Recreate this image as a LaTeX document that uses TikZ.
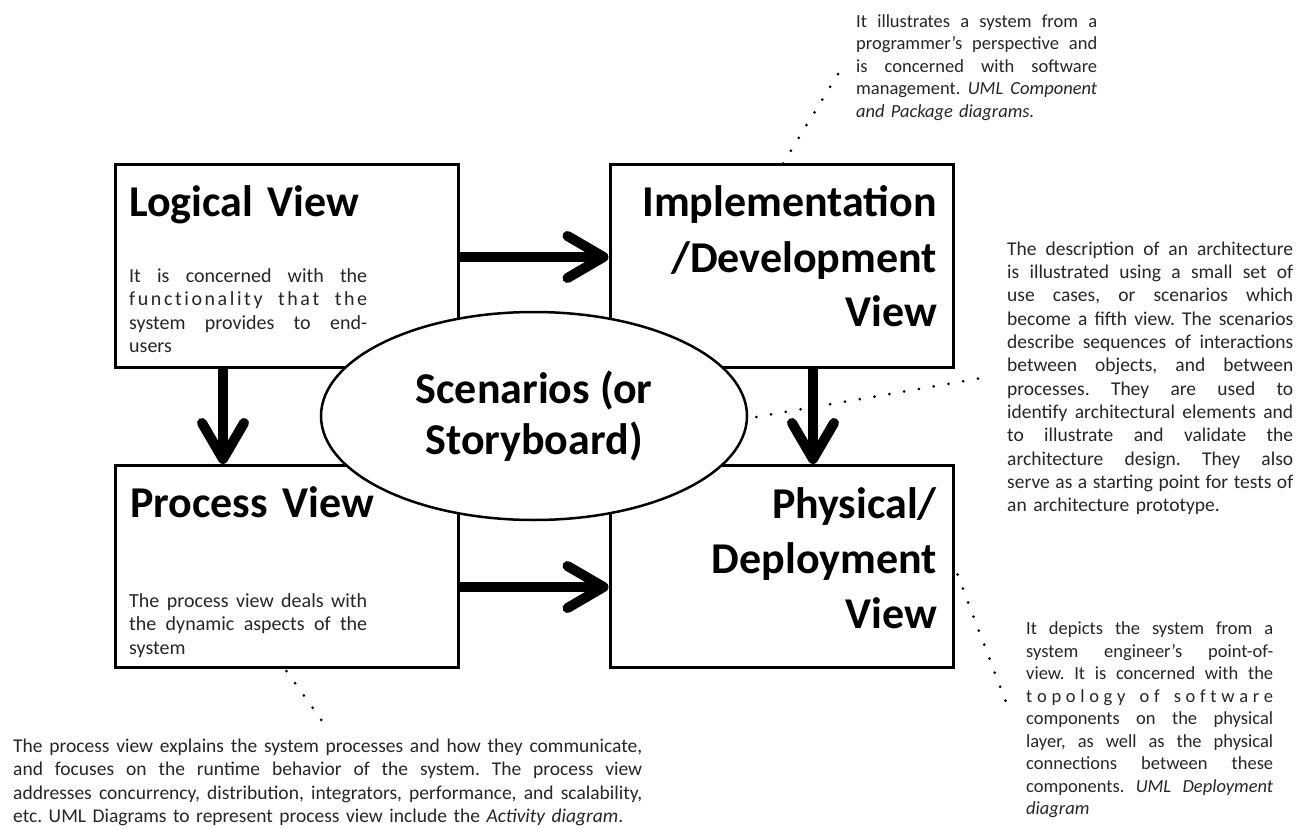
\documentclass[tikz,border=0pt]{standalone}
\usepackage{fontspec}
\setmainfont{Carlito}
\usetikzlibrary{arrows.meta,shapes.geometric}
\newlength\jw
\newcommand\J[1]{{\spaceskip=0.226em plus 1fil\relax\makebox[\jw][s]{#1}}}
\newcommand\lgap{\hfill}
\newcommand\wgap{\hfill\hfill\hfill}
\newcommand\wwgap{\hfill\hfill\hfill\hfill\hfill\hfill}
\begin{document}
\frenchspacing
\begin{tikzpicture}[x=1pt,y=-1pt,
  viewbox/.style={draw=black,line width=3pt,fill=white,minimum width=343pt,minimum height=202pt,inner sep=0pt},
  titletext/.style={font=\fontsize{44}{55}\selectfont\bfseries,inner sep=0pt,text width=320pt},
  boxtext/.style={font=\fontsize{20}{23.5}\selectfont\setlength\jw{238pt}\frenchspacing,text=black!85,inner sep=0pt,text width=238pt,align=left,anchor=base west},
  note/.style={text=black!85,inner sep=0pt,align=left,anchor=base west},
  flow/.style={line width=10pt,-{Straight Barb[length=36pt,width=42pt,round]}},
  dots/.style={line width=3pt,line cap=round,dash pattern=on 0pt off 15pt},
]
\useasboundingbox[fill=white] (0,0) rectangle (1306,829);

% boxes
\node[viewbox] (logical) at (286.5,266) {};
\node[viewbox] (impl)    at (781.5,266) {};
\node[viewbox] (proc)    at (286.5,566.5) {};
\node[viewbox] (phys)    at (781.5,566.5) {};

% titles
\node[titletext,align=left,anchor=base west] (logicalT) at (129,217) {Logical View};
\node[titletext,align=right,anchor=base east] (implT) at (937,217) {Implementation\\/Development\\View};
\node[titletext,align=left,anchor=base west] (procT) at (130,517) {Process View};
\node[titletext,align=right,anchor=base east] (physT) at (937,518) {Physical/\\Deployment\\View};

% box texts
\node[boxtext] (logicalX) at (129,282) {\J{It is concerned with the}\\
\J{f\lgap u\lgap n\lgap c\lgap t\lgap i\lgap o\lgap n\lgap a\lgap l\lgap i\lgap t\lgap y\wwgap t\lgap h\lgap a\lgap t\wwgap t\lgap h\lgap e}\\
\J{system provides to end-}\\
users};
\node[boxtext] (procX) at (129,607) {\J{The process view deals with}\\
\J{the dynamic aspects of the}\\
system};

% scenarios
\node[ellipse,draw=black,line width=2.5pt,fill=white,minimum width=426pt,minimum height=208pt,inner sep=0pt,
  font=\fontsize{44}{51}\selectfont\bfseries,align=center] (scen) at (534,416) {\raisebox{-4pt}{Scenarios (or}\\\raisebox{-4pt}{Storyboard)}};

% arrows
\draw[flow] ([yshift=9pt]logical.east) -- ([yshift=9pt]impl.west);
\draw[flow] ([yshift=-20.5pt]proc.east) -- ([yshift=-20.5pt]phys.west);
\draw[flow] ([xshift=-63.5pt]logical.south) -- ([xshift=-63.5pt]proc.north);
\draw[flow] ([xshift=31.5pt]impl.south) -- ([xshift=31.5pt]phys.north);

% notes
\node[note,text width=241pt,font=\fontsize{18.5}{22.5}\selectfont\setlength\jw{241pt}\frenchspacing] (topN) at (856,27.5) {\J{It illustrates a system from a}\\
\J{programmer's perspective and}\\
\J{is concerned with software}\\
\J{management. \textit{UML Component}}\\
\textit{and Package diagrams.}};

\node[note,text width=286pt,font=\fontsize{19.5}{23.35}\selectfont\setlength\jw{286pt}\frenchspacing] (rightN) at (1007,255) {\J{The description of an architecture}\\
\J{is illustrated using a small set of}\\
\J{use cases, or scenarios which}\\
\J{become a fifth view. The scenarios}\\
\J{describe sequences of interactions}\\
\J{between objects, and between}\\
\J{processes. They are used to}\\
\J{identify architectural elements and}\\
\J{to illustrate and validate the}\\
\J{architecture design. They also}\\
\J{serve as a starting point for tests of}\\
an architecture prototype.};

\node[note,text width=247pt,font=\fontsize{18.5}{22.5}\selectfont\setlength\jw{247pt}\frenchspacing] (physN) at (1026,634.5) {\J{It depicts the system from a}\\
\J{system engineer's point-of-}\\
\J{view. It is concerned with the}\\
\J{t\lgap o\lgap p\lgap o\lgap l\lgap o\lgap g\lgap y\wgap o\lgap f\wgap s\lgap o\lgap f\lgap t\lgap w\lgap a\lgap r\lgap e}\\
\J{components on the physical}\\
\J{layer, as well as the physical}\\
\J{connections between these}\\
\J{components. \textit{UML Deployment}}\\
\textit{diagram}};

\node[note,text width=629pt,font=\fontsize{19.5}{23.3}\selectfont\setlength\jw{629pt}\frenchspacing] (procN) at (13,752.5) {\J{The process view explains the system processes and how they communicate,}\\
\J{and focuses on the runtime behavior of the system. The process view}\\
\J{addresses concurrency, distribution, integrators, performance, and scalability,}\\
etc. UML Diagrams to represent process view include the \textit{Activity diagram}.};

% dotted leaders
\coordinate (topEnd) at (838,74);
\coordinate (scenEnd) at (988,377);
\coordinate (physEnd) at (1009,710);
\coordinate (procEnd) at (322,721);
\draw[dots] ([xshift=1.5pt]impl.north) -- (topEnd);
\draw[dots] ([xshift=8pt,yshift=-1pt]scen.east) -- (scenEnd);
\draw[dots] ([xshift=3pt,yshift=-8pt]phys.east) -- (physEnd);
\draw[dots] ([yshift=-2pt]proc.south) -- (procEnd);
\end{tikzpicture}
\end{document}
